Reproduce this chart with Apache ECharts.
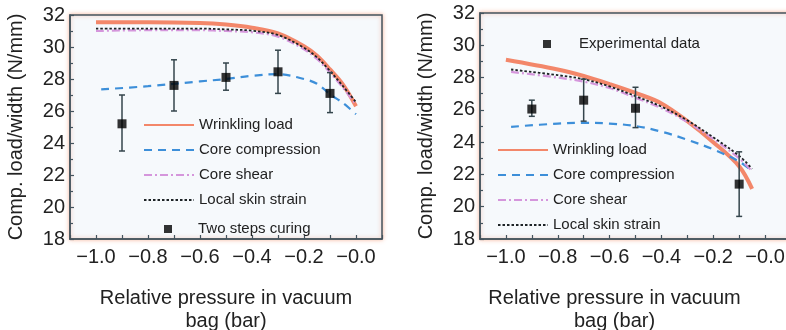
<!DOCTYPE html>
<html>
<head>
<meta charset="utf-8">
<script src="https://cdn.jsdelivr.net/npm/echarts@6/dist/echarts.min.js"></script>
<style>
html,body{margin:0;padding:0;background:#fff;}
#c{width:786px;height:330px;}
</style>
</head>
<body>
<div id="c"></div>
<script>
// ---------- DATA ----------
// Left panel
const L_xLines = [-1.0, -0.8, -0.6, -0.5, -0.4, -0.3, -0.2, -0.15, -0.1, -0.05, 0.0];
const L_wrinkling = [31.55, 31.55, 31.5, 31.4, 31.2, 30.85, 30.05, 29.45, 28.6, 27.65, 26.3];
const L_skin = [31.15, 31.15, 31.15, 31.1, 31.02, 30.75, 29.95, 29.35, 28.5, 27.55, 26.55];
const L_shear = [31.0, 31.05, 31.05, 31.0, 30.92, 30.65, 29.85, 29.25, 28.4, 27.45, 26.4];
const L_xComp = [-0.98, -0.8, -0.6, -0.5, -0.4, -0.3, -0.2, -0.15, -0.1, -0.05, 0.0];
const L_comp = [27.35, 27.55, 27.85, 28.0, 28.2, 28.3, 28.0, 27.7, 27.05, 26.5, 25.8];
const L_expX = [-0.9, -0.7, -0.5, -0.3, -0.1];
const L_expY = [25.2, 27.6, 28.1, 28.45, 27.1];
const L_expLo = [23.5, 26.0, 27.3, 27.1, 25.9];
const L_expHi = [27.0, 29.2, 29.0, 29.8, 28.4];

// Right panel
const R_xWr = [-1.0, -0.8, -0.7, -0.6, -0.5, -0.4, -0.3, -0.2, -0.1, -0.05];
const R_wrinkling = [29.1, 28.5, 28.1, 27.6, 27.05, 26.4, 25.3, 24.0, 22.5, 21.1];
const R_xOther = [-0.98, -0.8, -0.7, -0.6, -0.5, -0.4, -0.3, -0.2, -0.1, -0.05];
const R_skin = [28.5, 28.15, 27.9, 27.45, 26.85, 26.2, 25.35, 24.3, 23.15, 22.35];
const R_shear = [28.35, 28.0, 27.75, 27.35, 26.75, 26.1, 25.25, 24.2, 23.0, 22.2];
const R_comp = [24.95, 25.15, 25.2, 25.15, 25.0, 24.65, 24.15, 23.55, 22.8, 22.2];
const R_expX = [-0.9, -0.7, -0.5, -0.1];
const R_expY = [26.05, 26.6, 26.1, 21.4];
const R_expLo = [25.6, 25.3, 24.9, 19.4];
const R_expHi = [26.6, 27.9, 27.4, 23.4];

const yTicks = {min: 18, max: 32, interval: 2};
const xTicks = {min: -1.1, max: 0.1, interval: 0.1};
const yTitle = 'Comp. load/width (N/mm)';
const xTitle = 'Relative pressure in vacuum\nbag (bar)';
const names = ['Wrinkling load', 'Core compression', 'Core shear', 'Local skin strain'];

// ---------- STYLE ----------
const FONT = 'Liberation Sans, Arial, sans-serif';
const AX = '#44545e';
const C_OR = '#f3876a', C_BL = '#3d8fd9', C_PK = '#d596dc', C_BK = '#1d2326';

const zip = (xs, ys) => xs.map((x, i) => [x, ys[i]]);
const errData = (xs, lo, hi) => xs.map((x, i) => [x, lo[i], hi[i]]);

function xAxisCfg(idx, pad) {
  return {
    type: 'value', gridIndex: idx, min: xTicks.min, max: xTicks.max, interval: xTicks.interval,
    axisLine: {show: true, onZero: false, lineStyle: {color: AX, width: 1.5}},
    axisTick: {show: true, inside: true, length: 4, lineStyle: {color: AX, width: 1.2}},
    splitLine: {show: false},
    axisLabel: {
      fontFamily: FONT, fontSize: 20, color: '#222', margin: 8,
      formatter: v => {
        const k = Math.round(v * 10);
        if (k % 2 !== 0 || k > 0) return '';
        return '\u2212' + Math.abs(k / 10).toFixed(1);
      }
    },
    name: xTitle, nameLocation: 'middle', nameGap: 48,
    nameTextStyle: {fontFamily: FONT, fontSize: 20, color: '#222', lineHeight: 23, padding: pad}
  };
}
function yAxisCfg(idx) {
  return {
    type: 'value', gridIndex: idx, min: yTicks.min, max: yTicks.max, interval: yTicks.interval,
    axisLine: {show: true, onZero: false, lineStyle: {color: AX, width: 1.5}},
    axisTick: {show: true, inside: true, length: 4, lineStyle: {color: AX, width: 1.2}},
    minorTick: {show: true, splitNumber: 2, length: 3, lineStyle: {color: AX, width: 1.2}},
    splitLine: {show: false},
    axisLabel: {fontFamily: FONT, fontSize: 20, color: '#222', margin: 5},
    name: yTitle, nameLocation: 'middle', nameGap: 44,
    nameTextStyle: {fontFamily: FONT, fontSize: 20, color: '#222'}
  };
}
function gridCfg(left, top, width, height) {
  return {
    left: left, top: top, width: width, height: height, show: true,
    outerBoundsMode: 'none', containLabel: false,
    backgroundColor: '#f6f9fc', borderColor: AX, borderWidth: 1.5,
    shadowColor: 'rgba(240,130,90,0.55)', shadowBlur: 4
  };
}
function lineSeries(name, idx, data, color, width, type, z) {
  return {
    name: name, type: 'line', xAxisIndex: idx, yAxisIndex: idx, data: data,
    smooth: 0.35, showSymbol: false, symbol: 'none', z: z,
    lineStyle: {color: color, width: width, type: type}, itemStyle: {color: color}
  };
}
function errSeries(idx, data) {
  return {
    type: 'custom', xAxisIndex: idx, yAxisIndex: idx, data: data, z: 8,
    renderItem: (params, api) => {
      const x = api.value(0);
      const lo = api.coord([x, api.value(1)]);
      const hi = api.coord([x, api.value(2)]);
      const w = 3;
      const st = {stroke: '#34454c', lineWidth: 1.5};
      return {type: 'group', children: [
        {type: 'line', shape: {x1: lo[0], y1: lo[1], x2: hi[0], y2: hi[1]}, style: st},
        {type: 'line', shape: {x1: lo[0] - w, y1: lo[1], x2: lo[0] + w, y2: lo[1]}, style: st},
        {type: 'line', shape: {x1: hi[0] - w, y1: hi[1], x2: hi[0] + w, y2: hi[1]}, style: st}
      ]};
    }
  };
}
function expSeries(name, idx, data) {
  return {
    name: name, type: 'scatter', xAxisIndex: idx, yAxisIndex: idx, data: data,
    symbol: 'rect', symbolSize: 9, z: 9, itemStyle: {color: '#000'}
  };
}
const legText = {fontFamily: FONT, fontSize: 15, color: '#222', lineHeight: 16};
const hideSym = {color: 'rgba(0,0,0,0)', borderColor: 'rgba(0,0,0,0)', borderWidth: 0};

const option = {
  animation: false,
  backgroundColor: '#fff',
  grid: [gridCfg(70, 15, 312, 224), gridCfg(480, 13, 311, 226)],
  xAxis: [xAxisCfg(0, [0, 0, 0, 0]), xAxisCfg(1, [0, 42, 0, 0])],
  yAxis: [yAxisCfg(0), yAxisCfg(1)],
  legend: [
    {orient: 'vertical', left: 143, top: 117, padding: 0, itemWidth: 50, itemHeight: 16, itemGap: 9,
     data: names, textStyle: legText, selectedMode: false, itemStyle: hideSym},
    {orient: 'vertical', left: 164, top: 221, padding: 0, itemWidth: 8, itemHeight: 8,
     data: ['Two steps curing'], textStyle: Object.assign({}, legText, {padding: [0, 0, 0, 21]}),
     selectedMode: false},
    {orient: 'vertical', left: 497, top: 142, padding: 0, itemWidth: 50, itemHeight: 16, itemGap: 9,
     data: names, textStyle: legText, selectedMode: false, itemStyle: hideSym},
    {orient: 'vertical', left: 543, top: 36, padding: 0, itemWidth: 8, itemHeight: 8,
     data: ['Experimental data'], textStyle: Object.assign({}, legText, {padding: [0, 0, 0, 23]}),
     selectedMode: false}
  ],
  series: [
    lineSeries('Core compression', 0, zip(L_xComp, L_comp), C_BL, 2.2, [8, 6], 3),
    lineSeries('Wrinkling load', 0, zip(L_xLines, L_wrinkling), C_OR, 4, 'solid', 2),
    lineSeries('Core shear', 0, zip(L_xLines, L_shear), C_PK, 2.2, [8, 3, 2, 3], 4),
    lineSeries('Local skin strain', 0, zip(L_xLines, L_skin), C_BK, 1.8, [2.5, 2], 5),
    errSeries(0, errData(L_expX, L_expLo, L_expHi)),
    expSeries('Two steps curing', 0, zip(L_expX, L_expY)),

    lineSeries('Core compression', 1, zip(R_xOther, R_comp), C_BL, 2.2, [8, 6], 3),
    lineSeries('Wrinkling load', 1, zip(R_xWr, R_wrinkling), C_OR, 4, 'solid', 2),
    lineSeries('Core shear', 1, zip(R_xOther, R_shear), C_PK, 2.2, [8, 3, 2, 3], 4),
    lineSeries('Local skin strain', 1, zip(R_xOther, R_skin), C_BK, 1.8, [2.5, 2], 5),
    errSeries(1, errData(R_expX, R_expLo, R_expHi)),
    expSeries('Experimental data', 1, zip(R_expX, R_expY))
  ]
};
const chart = echarts.init(document.getElementById('c'), null, {renderer: 'canvas'});
chart.setOption(option);
</script>
</body>
</html>
